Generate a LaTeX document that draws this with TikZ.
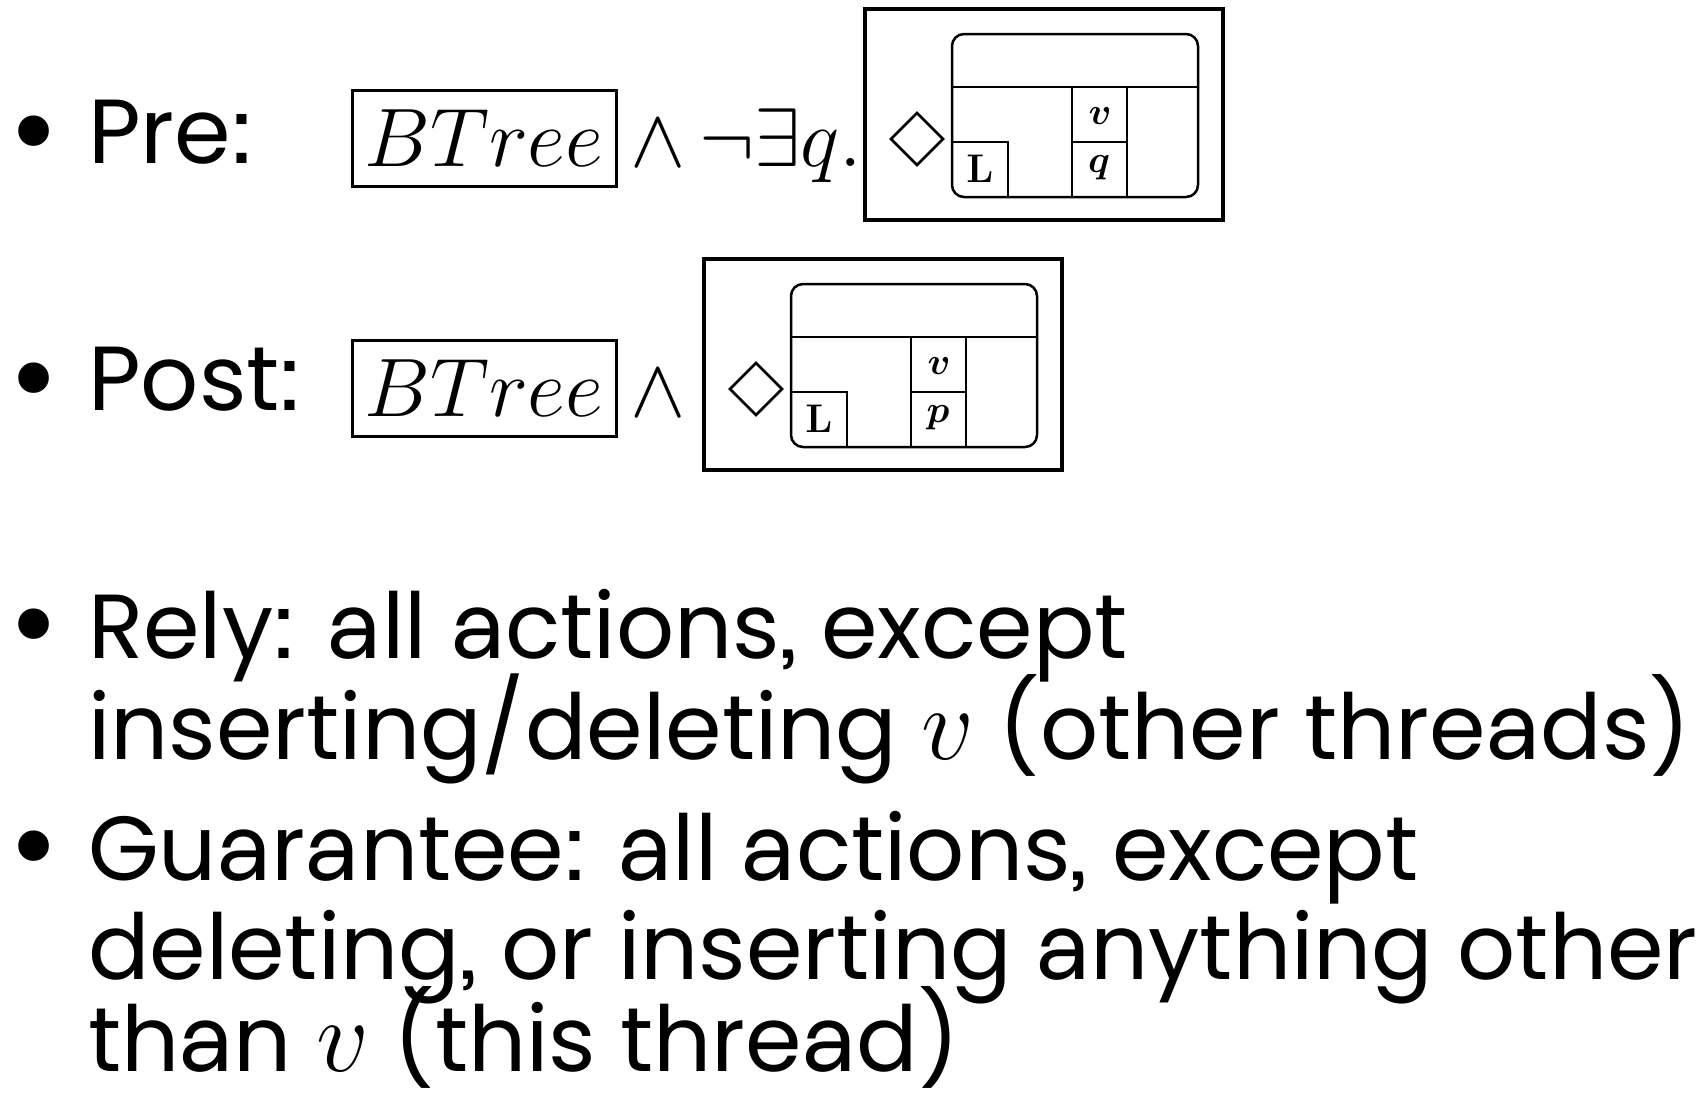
\RequirePackage{fix-cm}
\documentclass[tikz,border=0pt]{standalone}
\usepackage{amsmath,amssymb}
\usepackage[no-math]{fontspec}
\setmainfont{Poppins}[RawFeature={+ss01;+ss02;+salt}]
% larger inline math letter used inside the bullet text
\newcommand{\bigvar}[1]{{\fontsize{104}{104}\selectfont$#1$}}
\begin{document}
\begin{tikzpicture}[x=1pt,y=-1pt,
  body/.style={anchor=base west,inner sep=0pt,font=\fontsize{91}{96}\selectfont},
  dot/.style={anchor=center,inner sep=0pt,font=\fontsize{124}{124}\selectfont},
  mathtxt/.style={anchor=base west,inner sep=0pt,font=\fontsize{83}{83}\selectfont},
  predbox/.style={draw,line width=3pt,inner sep=0pt,minimum width=264pt,minimum height=96pt,font=\fontsize{83}{83}\selectfont},
  frame/.style={line width=3.5pt},
  cell/.style={line width=2.5pt},
  small/.style={inner sep=0pt,font=\fontsize{38}{38}\selectfont},
  boldL/.style={inner sep=0pt,font=\fontsize{40}{40}\selectfont}]
\useasboundingbox (0,0) rectangle (1706,1101);

% ---- Pre ----
\node[dot]  (b1) at (34,144) {•};
\node[body] (pre) at (88,163) {Pre:};
\node[predbox] (bt1) at (484,138) {$BTree$};
\node[mathtxt] (c1) at (630,166) {$\wedge\,\neg\exists q.$};
\begin{scope}
  \draw[frame] (865,9) rectangle (1223,220);
  \draw[cell] (891,139) -- (917,113) -- (943,139) -- (917,165) -- cycle;
  \draw[cell,rounded corners=12pt] (952,34) rectangle (1198,197);
  \draw[cell] (952,87) -- (1198,87);
  \draw[cell] (1072,87) -- (1072,197) (1127,87) -- (1127,197);
  \draw[cell] (952,142) -- (1008,142) -- (1008,197);
  \draw[cell] (1072,142) -- (1127,142);
  \node[boldL] (l1) at (980,169) {$\mathbf{L}$};
  \node[small] (v1) at (1100,116) {$\boldsymbol{v}$};
  \node[small] (q1) at (1099,168) {$\boldsymbol{q}$};
\end{scope}

% ---- Post ----
\node[dot]  (b2) at (34,391) {•};
\node[body] (post) at (88,410) {Post:};
\node[predbox] (bt2) at (484,388) {$BTree$};
\node[mathtxt] (c2) at (630,416) {$\wedge$};
\begin{scope}[shift={(-161,250)}]
  \draw[frame] (865,9) rectangle (1223,220);
  \draw[cell] (891,139) -- (917,113) -- (943,139) -- (917,165) -- cycle;
  \draw[cell,rounded corners=12pt] (952,34) rectangle (1198,197);
  \draw[cell] (952,87) -- (1198,87);
  \draw[cell] (1072,87) -- (1072,197) (1127,87) -- (1127,197);
  \draw[cell] (952,142) -- (1008,142) -- (1008,197);
  \draw[cell] (1072,142) -- (1127,142);
  \node[boldL] (l2) at (980,169) {$\mathbf{L}$};
  \node[small] (v2) at (1100,116) {$\boldsymbol{v}$};
  \node[small] (p2) at (1099,168) {$\boldsymbol{p}$};
\end{scope}

% ---- Rely / Guarantee ----
\node[dot]  (b3) at (34,637) {•};
\node[body] (r1) at (88,658) {Rely: all actions, except};
\node[body] (r2) at (88,759) {inserting/deleting \bigvar{v} (other threads)};
\node[dot]  (b4) at (34,859) {•};
\node[body] (g1) at (88,880) {Guarantee: all actions, except};
\node[body] (g2) at (88,979) {deleting, or inserting anything other};
\node[body] (g3) at (88,1071) {than \bigvar{v} (this thread)};
\end{tikzpicture}
\end{document}
